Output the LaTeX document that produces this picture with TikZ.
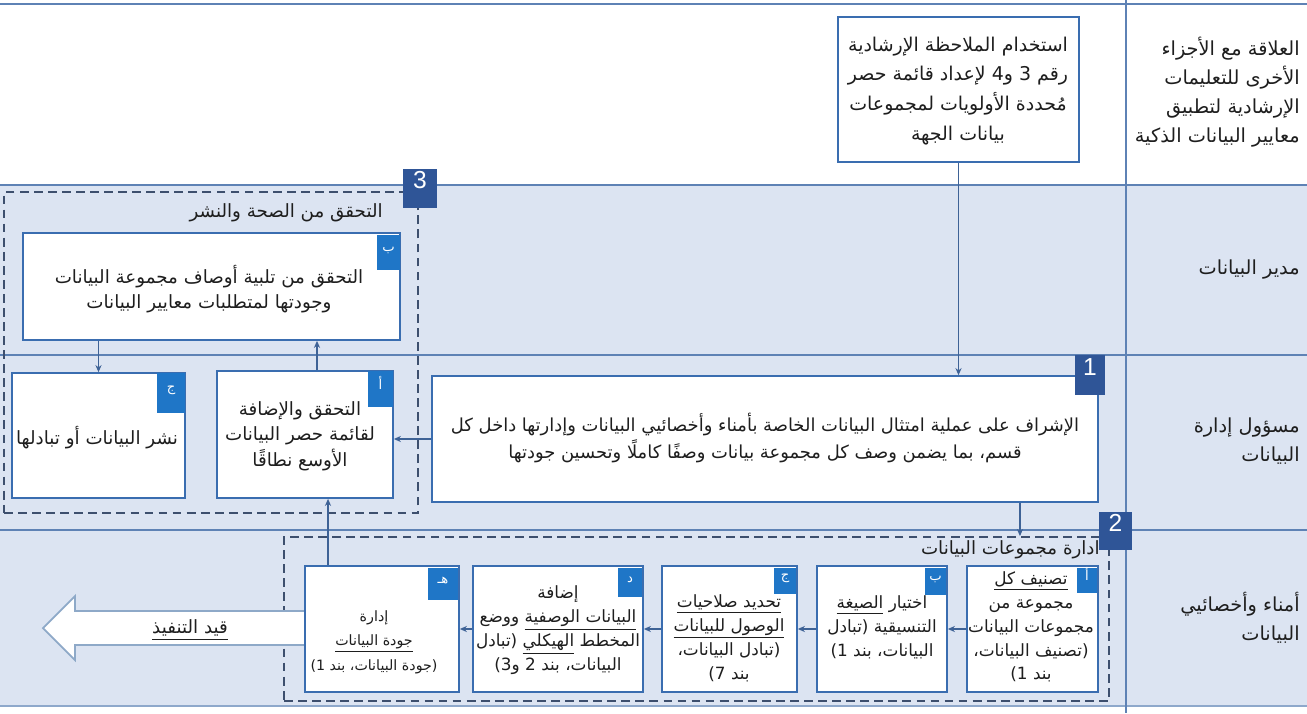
\documentclass[tikz,border=0pt]{standalone}
\usepackage{fontspec}
\usetikzlibrary{arrows.meta,fit}
\TeXXeTstate=1
\newfontfamily\arabicfont[Script=Arabic]{DejaVu Sans}
\newfontfamily\latinfont{Liberation Sans}
% one right-to-left line, and an underlined right-to-left phrase
\newcommand\arline[1]{\beginR #1\endR}
\newcommand\arul[1]{\underline{\beginR #1\endR}}
\definecolor{rowfill}{HTML}{DCE4F2}
\definecolor{rowline}{HTML}{5E82B5}
\definecolor{boxline}{HTML}{3A6DB0}
\definecolor{groupline}{HTML}{3D4F6E}
\definecolor{navy}{HTML}{2F5597}
\definecolor{tagblue}{HTML}{1F76C7}
\definecolor{linkline}{HTML}{3E6296}
\definecolor{bigarrow}{HTML}{8EA9C8}
\definecolor{ink}{HTML}{1E1E1E}
\tikzset{
  box/.style={rectangle, draw=boxline, fill=white, line width=1pt, inner sep=0pt},
  group/.style={rectangle, draw=groupline, dash pattern=on 5pt off 3pt, line width=1.1pt, inner sep=0pt},
  numtag/.style={rectangle, fill=navy, text=white, inner sep=0pt, font=\latinfont\fontsize{14}{14}\selectfont},
  lettag/.style={rectangle, fill=tagblue, text=white, inner sep=0pt, font=\arabicfont\fontsize{7.5}{7.5}\selectfont},
  txt/.style={text=ink, align=center, inner sep=0pt, font=\arabicfont\fontsize{10.4}{14.5}\selectfont},
  guidetxt/.style={text=ink, align=center, inner sep=0pt, font=\arabicfont\fontsize{10.8}{17}\selectfont},
  wide/.style={text=ink, align=center, inner sep=0pt, font=\arabicfont\fontsize{10.2}{15}\selectfont},
  small/.style={text=ink, align=center, inner sep=0pt, font=\arabicfont\fontsize{9.6}{13.6}\selectfont},
  tiny/.style={text=ink, align=center, inner sep=0pt, font=\arabicfont\fontsize{8.1}{14}\selectfont},
  head/.style={text=ink, align=right, inner sep=0pt, font=\arabicfont\fontsize{11}{16.5}\selectfont},
  title/.style={text=ink, inner sep=0pt, font=\arabicfont\fontsize{10.4}{12}\selectfont},
  link/.style={draw=linkline, line width=0.7pt, -{Stealth[length=4pt,width=3.5pt]}},
}
\begin{document}
\begin{tikzpicture}[x=0.02cm,y=-0.02cm]
\useasboundingbox (0,0) rectangle (1307,713);
\fill[white] (0,0) rectangle (1307,713);
% swimlane bands and rules
\fill[rowfill] (0,185) rectangle (1307,706);
\draw[rowline, line width=1.2pt] (0,4) -- (1307,4);
\draw[rowline, line width=0.8pt] (0,185) -- (1307,185);
\draw[rowline, line width=0.8pt] (0,355) -- (1307,355);
\draw[rowline, line width=0.8pt] (0,530) -- (1307,530);
\draw[rowline!70, line width=1.6pt] (0,706) -- (1307,706);
\draw[rowline, line width=0.8pt] (1126,0) -- (1126,713);

% lane headings
\node[head, anchor=east] (hdr0) at (1300,92) {\arline{العلاقة مع الأجزاء}\\\arline{الأخرى للتعليمات}\\\arline{الإرشادية لتطبيق}\\\arline{معايير البيانات الذكية}};
\node[head, anchor=east] (hdr1) at (1300,270) {\arline{مدير البيانات}};
\node[head, anchor=east] (hdr2) at (1300,441) {\arline{مسؤول إدارة}\\\arline{البيانات}};
\node[head, anchor=east] (hdr3) at (1300,618) {\arline{أمناء وأخصائيي}\\\arline{البيانات}};

% dashed groups
\node[group, fit={(4,192) (418,513)}] (g3) {};
\node[title, anchor=east] (g3title) at (383,213) {\arline{التحقق من الصحة والنشر}};
\node[group, fit={(284,537) (1109,701)}] (g2) {};
\node[title, anchor=east] (g2title) at (1100,550) {\arline{ادارة مجموعات البيانات}};

% big outlined arrow: work in progress
\draw[bigarrow, fill=white, line width=1pt, line join=miter]
  (305,611) -- (75,611) -- (75,596) -- (43,628) -- (75,660) -- (75,645) -- (305,645);
\node[title] (progress) at (190,630) {\arline{\arul{قيد التنفيذ}}};

% boxes
\node[box, fit={(838,17) (1079,162)}] (guide) {};
\node[box, fit={(23,233) (400,340)}] (r1b) {};
\node[box, fit={(12,373) (185,498)}] (r2c) {};
\node[box, fit={(217,371) (393,498)}] (r2a) {};
\node[box, fit={(432,376) (1098,502)}] (one) {};
\node[box, fit={(967,566) (1098,692)}] (a3) {};
\node[box, fit={(817,566) (947,692)}] (b3) {};
\node[box, fit={(662,566) (797,692)}] (c3) {};
\node[box, fit={(473,566) (643,692)}] (d3) {};
\node[box, fit={(305,566) (459,692)}] (h3) {};

% box texts
\node[guidetxt] (guide-t) at (958,91) {\arline{استخدام الملاحظة الإرشادية}\\\arline{رقم 3 و4 لإعداد قائمة حصر}\\\arline{مُحددة الأولويات لمجموعات}\\\arline{بيانات الجهة}};
\node[txt] (r1b-t) at (209,289) {\arline{التحقق من تلبية أوصاف مجموعة البيانات}\\\arline{وجودتها لمتطلبات معايير البيانات}};
\node[txt] (r2c-t) at (97,438) {\arline{نشر البيانات أو تبادلها}};
\node[txt] (r2a-t) at (300,436) {\arline{التحقق والإضافة}\\\arline{لقائمة حصر البيانات}\\\arline{الأوسع نطاقًا}};
\node[wide] (one-t) at (765,438) {\arline{الإشراف على عملية امتثال البيانات الخاصة بأمناء وأخصائيي البيانات وإدارتها داخل كل}\\\arline{قسم، بما يضمن وصف كل مجموعة بيانات وصفًا كاملًا وتحسين جودتها}};
\node[small] (a3-t) at (1031,627) {\arline{\arul{تصنيف كل}}\\\arline{مجموعة من}\\\arline{مجموعات البيانات}\\\arline{(تصنيف البيانات،}\\\arline{بند 1)}};
\node[small] (b3-t) at (882,627) {\arline{اختيار \arul{الصيغة}}\\\arline{التنسيقية (تبادل}\\\arline{البيانات، بند 1)}};
\node[small] (c3-t) at (729,638) {\arline{\arul{تحديد صلاحيات}}\\\arline{\arul{الوصول للبيانات}}\\\arline{(تبادل البيانات،}\\\arline{بند 7)}};
\node[small] (d3-t) at (558,630) {\arline{إضافة}\\\arline{\arul{البيانات الوصفية} ووضع}\\\arline{المخطط \arul{الهيكلي} (تبادل}\\\arline{البيانات، بند 2 و3)}};
\node[tiny] (h3-t) at (374,642) {\arline{إدارة}\\\arline{\arul{جودة البيانات}}\\\arline{(جودة البيانات، بند 1)}};

% connectors
\draw[link] (guide.south) -- (guide.south |- one.north);
\draw[link] (one.west) -- (one.west -| r2a.east);
\draw[link] (r2c.north |- r1b.south) -- (r2c.north);
\draw[link] ([xshift=0.24cm]r2a.north) -- ([xshift=0.24cm]r2a.north |- r1b.south);
\draw[link] ([xshift=5.1cm]one.south) -- ([xshift=5.1cm]one.south |- g2.north);
\draw[link] ([xshift=-1.08cm]h3.north) -- ([xshift=-1.08cm]h3.north |- r2a.south);
\draw[link] (a3.west) -- (b3.east);
\draw[link] (b3.west) -- (c3.east);
\draw[link] (c3.west) -- (d3.east);
\draw[link] (d3.west) -- (h3.east);

% step tags
\node[numtag, fit={(403,169) (437,208)}] (tag3) {3};
\node[numtag, fit={(1099,512) (1132,550)}] (tag2) {2};
\node[numtag, fit={(1075,355) (1105,395)}] (tag1) {1};
\node[lettag, fit={(377,235) (400,270)}] (tr1b) {ب};
\node[lettag, fit={(157,373) (185,413)}] (tr2c) {ج};
\node[lettag, fit={(368,371) (393,407)}] (tr2a) {أ};
\node[lettag, fit={(1077,568) (1097,593)}] (ta3) {أ};
\node[lettag, fit={(925,568) (946,595)}] (tb3) {ب};
\node[lettag, fit={(774,568) (796,594)}] (tc3) {ج};
\node[lettag, fit={(618,568) (642,597)}] (td3) {د};
\node[lettag, fit={(428,568) (458,600)}] (th3) {هـ};
\end{tikzpicture}
\end{document}
